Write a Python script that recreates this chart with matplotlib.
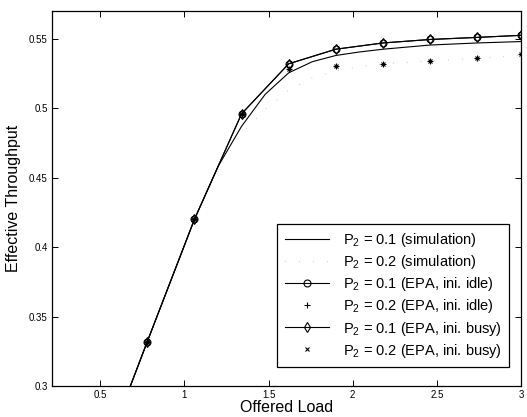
import numpy as np
import matplotlib
matplotlib.use("Agg")
from matplotlib import pyplot as plt

plt.rcParams['font.family'] = ['Liberation Sans', 'DejaVu Sans']
plt.rcParams['mathtext.default'] = 'regular'

# offered load at the EPA points
load = [0.22, 0.5, 0.78, 1.06, 1.34, 1.62, 1.9, 2.18, 2.46, 2.74, 3.0]
# EPA, P2 = 0.1 (idle and busy start give the same values)
epa_p1_idle = [0.155, 0.243, 0.332, 0.420, 0.496, 0.532, 0.5425, 0.547, 0.5495, 0.551, 0.5525]
epa_p1_busy = [0.155, 0.243, 0.332, 0.420, 0.496, 0.532, 0.5425, 0.547, 0.5495, 0.551, 0.5525]
# EPA, P2 = 0.2
epa_p2_idle = [0.155, 0.243, 0.332, 0.420, 0.496, 0.528, 0.5305, 0.532, 0.534, 0.5365, 0.539]
epa_p2_busy = [0.155, 0.243, 0.332, 0.420, 0.496, 0.528, 0.5305, 0.532, 0.534, 0.5365, 0.539]

# simulation curves, read at a finer step
sim_load = [0.22, 0.5, 0.78, 1.06, 1.2, 1.34, 1.48, 1.62, 1.76, 1.9, 2.04, 2.18, 2.46, 2.74, 3.0]
sim_p1 = [0.155, 0.243, 0.332, 0.420, 0.458, 0.487, 0.510, 0.5255, 0.5335, 0.538, 0.5405, 0.5425, 0.5455, 0.547, 0.548]
sim_p2 = [0.155, 0.243, 0.332, 0.420, 0.456, 0.482, 0.499, 0.513, 0.522, 0.527, 0.530, 0.532, 0.534, 0.536, 0.538]

fig = plt.figure(figsize=(5.27, 4.17), dpi=100)
ax = fig.add_axes([0.0987, 0.0743, 0.89, 0.8993])

ax.plot(sim_load, sim_p1, '-', color='k', lw=0.8, label='P$_2$ = 0.1 (simulation)')
ax.plot(sim_load, sim_p2, color='0.5', lw=0.6, dashes=(0.6, 16),
        label='P$_2$ = 0.2 (simulation)')
ax.plot(load, epa_p1_idle, '-o', color='k', lw=0.8, ms=5, mfc='none', mew=0.8,
        label='P$_2$ = 0.1 (EPA, ini. idle)')
ax.plot(load, epa_p2_idle, '+', color='k', ms=5, mew=0.8,
        label='P$_2$ = 0.2 (EPA, ini. idle)')
ax.plot(load, epa_p1_busy, '-d', color='k', lw=0.8, ms=5, mfc='none', mew=0.8,
        label='P$_2$ = 0.1 (EPA, ini. busy)')
ax.plot(load, epa_p2_busy, 'x', color='k', ms=3.5, mew=0.8,
        label='P$_2$ = 0.2 (EPA, ini. busy)')

ax.set_xlim(0.214, 3.0)
ax.set_ylim(0.3, 0.57)
ax.set_xticks([0.5, 1, 1.5, 2, 2.5, 3])
ax.set_xticklabels(['0.5', '1', '1.5', '2', '2.5', '3'])
ax.set_yticks([0.3, 0.35, 0.4, 0.45, 0.5, 0.55])
ax.set_yticklabels(['0.3', '0.35', '0.4', '0.45', '0.5', '0.55'])
ax.tick_params(direction='in', top=True, right=True, labelsize=7, length=4, width=0.7, pad=3)
for s in ax.spines.values():
    s.set_linewidth(0.9)

ax.set_xlabel('Offered Load', fontsize=11.5, labelpad=0)
ax.set_ylabel('Effective Throughput', fontsize=11.5, labelpad=6)

leg = ax.legend(loc='lower right', bbox_to_anchor=(0.975, 0.051), fontsize=10.5,
                frameon=True, fancybox=False, edgecolor='k', framealpha=1,
                handlelength=3.0, handletextpad=1.0, labelspacing=0.28,
                borderpad=0.5, borderaxespad=0)
leg.get_frame().set_linewidth(0.9)

fig.savefig('out.png', dpi=100)
